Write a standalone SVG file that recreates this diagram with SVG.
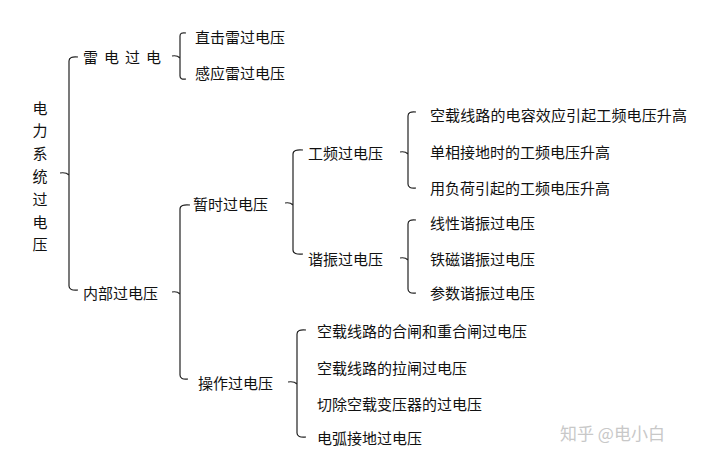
<svg xmlns="http://www.w3.org/2000/svg" width="711" height="463" viewBox="0 0 711 463">
<style>
text{font-family:"Noto Sans CJK SC","Noto Sans",sans-serif;font-size:15px;fill:#111;dominant-baseline:central}
.br{fill:none;stroke:#222;stroke-width:1.2}
.wm{fill:#c8c8c8;font-size:17px}
</style>
<rect width="711" height="463" fill="#fff"/>
<g id="connectors">
<path class="br" d="M78,57 Q69,56 69,61 V286 Q69,291 78,290 M60,173 Q66,172 69,175"/>
<path class="br" d="M186,33 Q180,32 180,36 V76 Q180,80 186,79 M172,56 Q177,55 180,58"/>
<path class="br" d="M190,205 Q180,204 180,209 V375 Q180,380 188,379 M172,292 Q177,291 180,294"/>
<path class="br" d="M303,150 Q293,149 293,154 V250 Q293,255 303,254 M285,203 Q290,202 293,205"/>
<path class="br" d="M416,112 Q408,111 408,116 V184 Q408,189 416,188 M400,152 Q405,151 408,154"/>
<path class="br" d="M416,220 Q408,219 408,224 V289 Q408,294 416,293 M400,258 Q405,257 408,260"/>
<path class="br" d="M306,330 Q297,329 297,334 V433 Q297,438 306,437 M288,382 Q294,381 297,384"/>
</g>
<g id="root"><text x="40" y="107" text-anchor="middle"><tspan x="40" y="107">电</tspan><tspan x="40" y="129">力</tspan><tspan x="40" y="152">系</tspan><tspan x="40" y="175">统</tspan><tspan x="40" y="198">过</tspan><tspan x="40" y="221">电</tspan><tspan x="40" y="243">压</tspan></text></g>
<g id="lightning"><text x="83" y="56" letter-spacing="6">雷电过电</text></g>
<g id="direct"><text x="195" y="36">直击雷过电压</text></g>
<g id="induced"><text x="195" y="72">感应雷过电压</text></g>
<g id="internal"><text x="83" y="292">内部过电压</text></g>
<g id="temporary"><text x="193" y="203">暂时过电压</text></g>
<g id="switching"><text x="198" y="382">操作过电压</text></g>
<g id="powerfreq"><text x="308" y="152">工频过电压</text></g>
<g id="resonance"><text x="308" y="258">谐振过电压</text></g>
<g id="pf1"><text x="430" y="114" textLength="257" lengthAdjust="spacing">空载线路的电容效应引起工频电压升高</text></g>
<g id="pf2"><text x="430" y="151">单相接地时的工频电压升高</text></g>
<g id="pf3"><text x="430" y="187">用负荷引起的工频电压升高</text></g>
<g id="rs1"><text x="430" y="222">线性谐振过电压</text></g>
<g id="rs2"><text x="430" y="258">铁磁谐振过电压</text></g>
<g id="rs3"><text x="430" y="292">参数谐振过电压</text></g>
<g id="sw1"><text x="317" y="330" textLength="210" lengthAdjust="spacing">空载线路的合闸和重合闸过电压</text></g>
<g id="sw2"><text x="317" y="367">空载线路的拉闸过电压</text></g>
<g id="sw3"><text x="317" y="403">切除空载变压器的过电压</text></g>
<g id="sw4"><text x="317" y="437">电弧接地过电压</text></g>
<g id="watermark"><text class="wm" x="560" y="432">知乎 @电小白</text></g>
</svg>
